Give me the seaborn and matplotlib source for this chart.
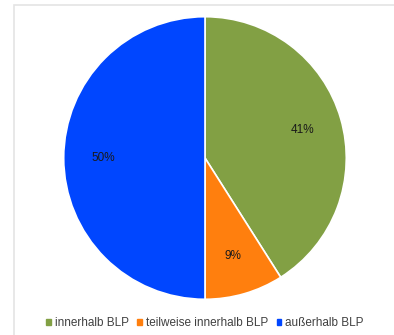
import matplotlib
matplotlib.use("Agg")
import matplotlib.pyplot as plt
import seaborn as sns
from matplotlib.patches import Rectangle

# Data
categories = ["innerhalb BLP", "teilweise innerhalb BLP", "außerhalb BLP"]
shares = [41, 9, 50]
colors = ["#82A044", "#FF7F0E", "#0046FF"]

sns.set_theme(style="white")
plt.rcParams['font.family'] = ['Liberation Sans', 'DejaVu Sans']

fig = plt.figure(figsize=(3.94, 3.35), dpi=100)
fig.patch.set_facecolor("white")

# light frame (top and left edge visible)
fig.add_artist(Rectangle((14 / 394, -0.1), 1.2, 1 - 5 / 335 + 0.1,
                         transform=fig.transFigure, fill=False,
                         edgecolor="#e4e4e4", linewidth=1.2))

ax = fig.add_axes([63 / 394, 35 / 335, 284 / 394, 284 / 335])
wedges, texts, autotexts = ax.pie(
    shares,
    colors=colors,
    startangle=90,
    counterclock=False,
    autopct=lambda p: f"{p:.0f}%",
    pctdistance=0.72,
    wedgeprops=dict(edgecolor="white", linewidth=1.2),
    textprops=dict(fontsize=8.5, color="#1a1a1a"),
)
ax.set_xlim(-1.005, 1.005)
ax.set_ylim(-1.005, 1.005)
ax.set_aspect("equal")

handles = [Rectangle((0, 0), 1, 1, color=c) for c in colors]
fig.legend(handles, categories, loc="center", bbox_to_anchor=(205 / 394, 1 - 323 / 335),
           ncol=3, frameon=False, fontsize=8.5, handlelength=0.35, handleheight=0.35,
           handletextpad=0.35, columnspacing=0.75, labelcolor="#404040")

plt.savefig("out.png", dpi=100)
plt.close()
